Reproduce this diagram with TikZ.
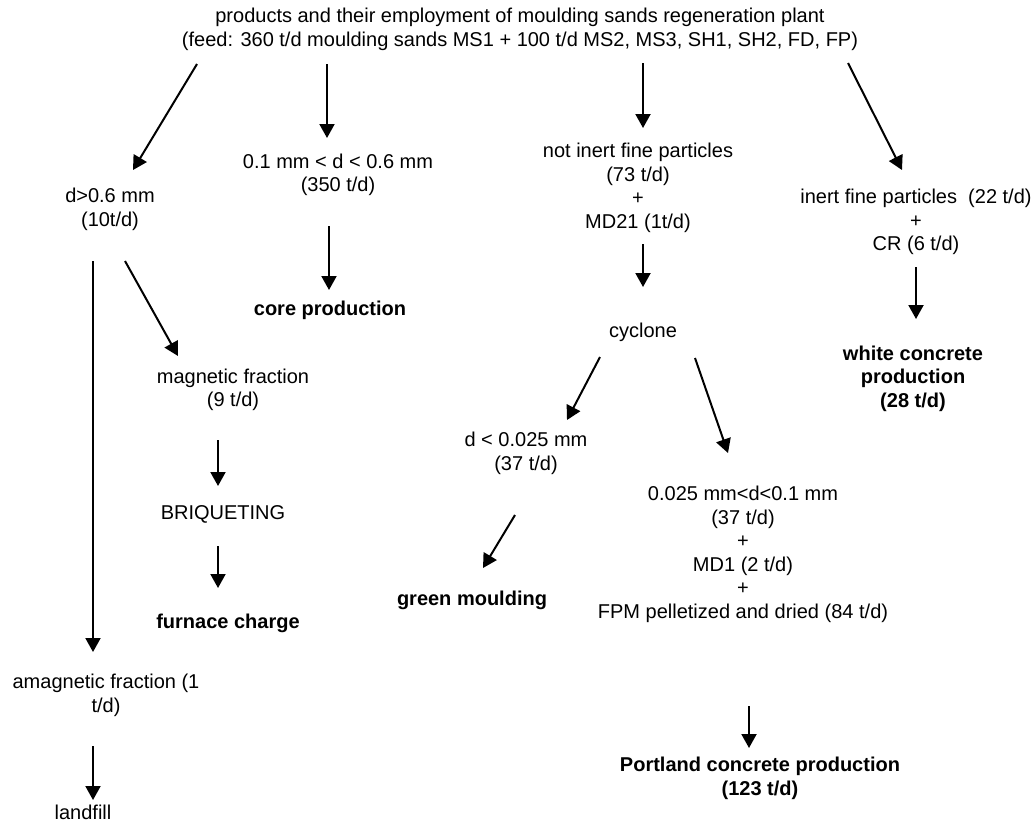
\documentclass[tikz,border=0pt]{standalone}
\usepackage{fontspec}
\setmainfont{Liberation Sans}
\usetikzlibrary{arrows.meta}

\begin{document}
\begin{tikzpicture}[x=1pt,y=-1pt]
    \tikzset{
      item/.style={align=center,inner sep=0pt,font=\fontsize{20}{23.5}\selectfont},
      result/.style={item,font=\fontsize{20}{23.5}\selectfont\bfseries},
      flow/.style={-{Triangle[width=15pt,length=14pt]},line width=2pt}
    }
    \useasboundingbox (0,0) rectangle (1036,822);

    \node[item] (plant) at (520,29.5) {products and their employment of moulding sands regeneration plant\\(feed: 360 t/d moulding sands MS1 + 100 t/d MS2, MS3, SH1, SH2, FD, FP)};
    \node[item] (coarse) at (110,209.5) {d>0.6 mm\\(10t/d)};
    \node[item] (medium) at (338,175) {0.1 mm < d < 0.6 mm\\(350 t/d)};
    \node[item] (notinert) at (638,188) {not inert fine particles\\(73 t/d)\\+\\MD21 (1t/d)};
    \node[item] (inert) at (916,222) {inert fine particles~~(22 t/d)\\+\\CR (6 t/d)};
    \node[result] (core) at (330,310) {core production};
    \node[result] (white) at (913,378.5) {white concrete\\production\\(28 t/d)};
    \node[item] (cyclone) at (643,332) {cyclone};
    \node[item] (magnetic) at (233,390) {magnetic fraction\\(9 t/d)};
    \node[item] (briq) at (223,514) {BRIQUETING};
    \node[result] (furnace) at (228,623) {furnace charge};
    \node[item] (finest) at (526,453.5) {d < 0.025 mm\\(37 t/d)};
    \node[result] (green) at (472,600) {green moulding};
    \node[item] (fine) at (743,554.5) {0.025 mm<d<0.1 mm\\(37 t/d)\\+\\MD1 (2 t/d)\\+\\FPM pelletized and dried (84 t/d)};
    \node[item] (amag) at (106,695.5) {amagnetic fraction (1\\t/d)};
    \node[item] (landfill) at (83,812.5) {landfill};
    \node[result] (portland) at (760,778.5) {Portland concrete production\\(123 t/d)};

    \draw[flow] ([shift={(-323,34.5)}]plant.center) -- ([shift={(23,-39.5)}]coarse.center);
    \draw[flow] ([shift={(-193,34.5)}]plant.center) -- ([shift={(-11,-37)}]medium.center);
    \draw[flow] ([shift={(123,33.5)}]plant.center) -- ([shift={(5,-60)}]notinert.center);
    \draw[flow] ([shift={(328,33.5)}]plant.center) -- ([shift={(-14,-52)}]inert.center);
    \draw[flow] ([shift={(-9,51)}]medium.center) -- ([shift={(-1,-20)}]core.center);
    \draw[flow] ([shift={(5,56)}]notinert.center) -- ([shift={(0,-45)}]cyclone.center);
    \draw[flow] ([shift={(0,45)}]inert.center) -- ([shift={(3,-59.5)}]white.center);
    \draw[flow] ([shift={(-17,51.5)}]coarse.center) -- ([shift={(-13,-43.5)}]amag.center);
    \draw[flow] ([shift={(15,51.5)}]coarse.center) -- ([shift={(-55,-34)}]magnetic.center);
    \draw[flow] ([shift={(-15,50)}]magnetic.center) -- ([shift={(-5,-28)}]briq.center);
    \draw[flow] ([shift={(-5,32)}]briq.center) -- ([shift={(-10,-35)}]furnace.center);
    \draw[flow] ([shift={(-13,50.5)}]amag.center) -- ([shift={(10,-12.5)}]landfill.center);
    \draw[flow] ([shift={(-43,25)}]cyclone.center) -- ([shift={(41,-33.5)}]finest.center);
    \draw[flow] ([shift={(52,26)}]cyclone.center) -- ([shift={(-15,-101.5)}]fine.center);
    \draw[flow] ([shift={(-11,61.5)}]finest.center) -- ([shift={(11,-32)}]green.center);
    \draw[flow] ([shift={(6,151.5)}]fine.center) -- ([shift={(-11,-30.5)}]portland.center);
  \end{tikzpicture}
\end{document}
